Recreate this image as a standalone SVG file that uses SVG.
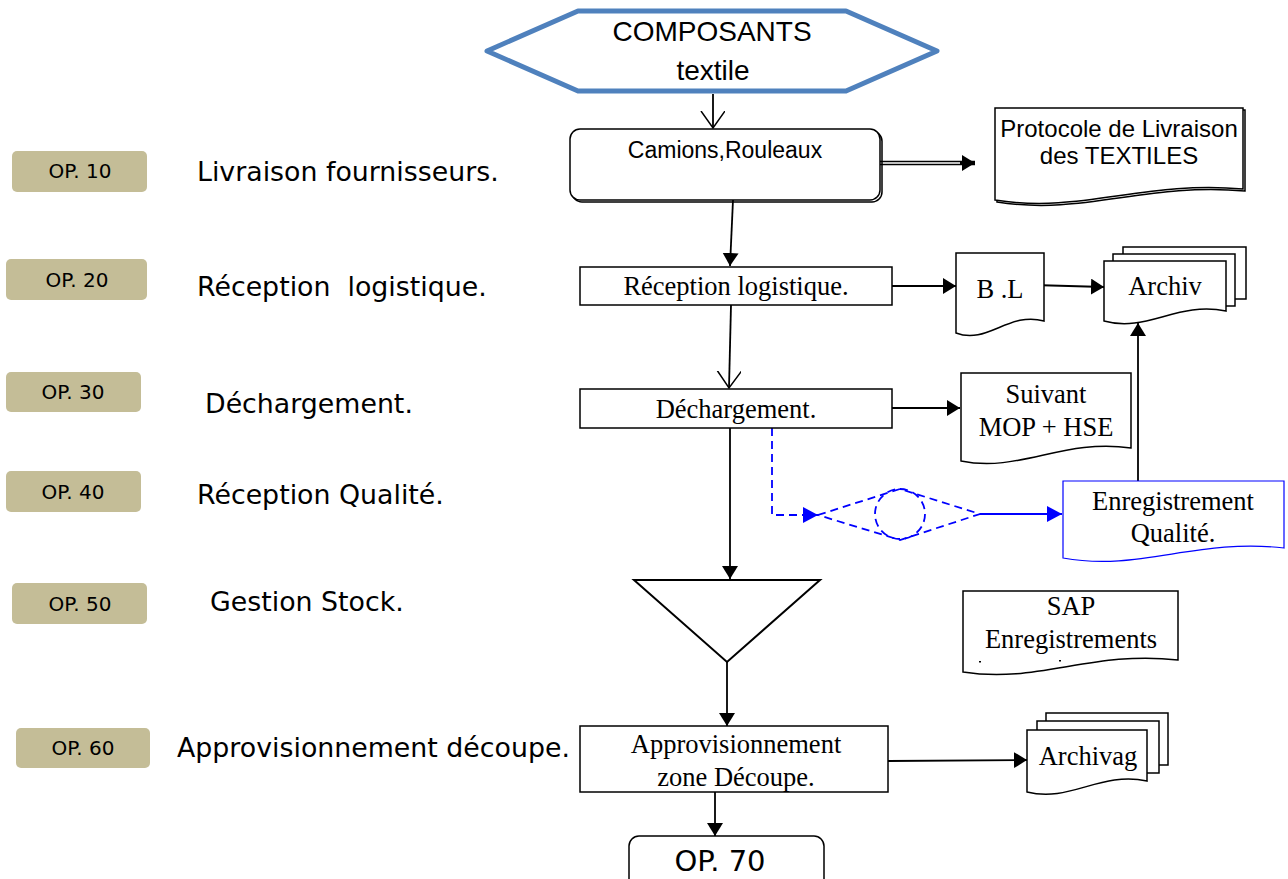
<svg xmlns="http://www.w3.org/2000/svg" width="1288" height="879" viewBox="0 0 1288 879">
  <style>
    .op { fill: #C4BD97; }
    .opt { font-family: "DejaVu Sans", sans-serif; font-size: 20px; fill: #000; text-anchor: middle; }
    .opbig { font-family: "DejaVu Sans", sans-serif; font-size: 29px; fill: #000; text-anchor: middle; }
    .lbl { font-family: "DejaVu Sans", sans-serif; font-size: 26.8px; fill: #000; }
    .box { fill: #fff; stroke: #000; stroke-width: 1.5; }
    .doc { fill: #fff; stroke: #000; stroke-width: 1.5; }
    .ser { font-family: "Liberation Serif", serif; font-size: 26.5px; fill: #000; text-anchor: middle; }
    .san { font-family: "Liberation Sans", sans-serif; fill: #000; text-anchor: middle; }
    .ln { fill: none; stroke: #000; stroke-width: 1.8; }
    .bl { fill: none; stroke: #0000FF; stroke-width: 1.8; }
    .dash { stroke-dasharray: 8 5; }
  </style>
  <defs>
    <marker id="solid" markerUnits="userSpaceOnUse" markerWidth="16" markerHeight="18" refX="13" refY="8" orient="auto">
      <path d="M0,0 L13,8 L0,16 z" fill="#000"/>
    </marker>
    <marker id="open" markerUnits="userSpaceOnUse" markerWidth="20" markerHeight="28" refX="17" refY="12" orient="auto">
      <path d="M0,0 L17,12 L0,24" fill="none" stroke="#000" stroke-width="1.5"/>
    </marker>
    <marker id="blue" markerUnits="userSpaceOnUse" markerWidth="18" markerHeight="18" refX="15" refY="8" orient="auto">
      <path d="M0,0 L15,8 L0,16 z" fill="#0000FF"/>
    </marker>
  </defs>

  <rect width="1288" height="879" fill="#fff"/>

  <!-- operation tags and step labels -->
  <g id="op10">
    <rect class="op" x="12" y="151" width="135" height="41" rx="5"/>
    <text class="opt" x="80" y="178">OP. 10</text>
    <text class="lbl" x="197" y="181">Livraison fournisseurs.</text>
  </g>
  <g id="op20">
    <rect class="op" x="6" y="259" width="141" height="41" rx="5"/>
    <text class="opt" x="77" y="287">OP. 20</text>
    <text class="lbl" x="197" y="296" xml:space="preserve">Réception  logistique.</text>
  </g>
  <g id="op30">
    <rect class="op" x="6" y="372" width="135" height="40" rx="5"/>
    <text class="opt" x="73" y="399">OP. 30</text>
    <text class="lbl" x="205" y="413">Déchargement.</text>
  </g>
  <g id="op40">
    <rect class="op" x="6" y="471" width="135" height="41" rx="5"/>
    <text class="opt" x="73" y="499">OP. 40</text>
    <text class="lbl" x="197" y="504">Réception Qualité.</text>
  </g>
  <g id="op50">
    <rect class="op" x="12" y="583" width="135" height="41" rx="5"/>
    <text class="opt" x="80" y="611">OP. 50</text>
    <text class="lbl" x="210" y="611">Gestion Stock.</text>
  </g>
  <g id="op60">
    <rect class="op" x="16" y="728" width="134" height="40" rx="5"/>
    <text class="opt" x="83" y="755">OP. 60</text>
    <text class="lbl" x="177" y="757">Approvisionnement découpe.</text>
  </g>

  <!-- connectors -->
  <g id="connectors">
    <line class="ln" x1="713" y1="94" x2="713" y2="128" marker-end="url(#open)"/>
    <line x1="880" y1="163" x2="975" y2="163" stroke="#000" stroke-width="4.5" marker-end="url(#solid)"/>
    <line x1="880" y1="163" x2="960" y2="163" stroke="#fff" stroke-width="1.4"/>
    <line class="ln" x1="733" y1="200" x2="730" y2="266" marker-end="url(#solid)"/>
    <line class="ln" x1="892" y1="286" x2="956" y2="286" marker-end="url(#solid)"/>
    <line class="ln" x1="1033" y1="285" x2="1104" y2="287" marker-end="url(#solid)"/>
    <line class="ln" x1="731" y1="305" x2="729" y2="388" marker-end="url(#open)"/>
    <line class="ln" x1="892" y1="408" x2="960" y2="408" marker-end="url(#solid)"/>
    <path class="bl dash" d="M772,428 V515 H818" marker-end="url(#blue)"/>
    <path class="bl dash" d="M818,515 L900,489 L980,514 L900,540 Z"/>
    <circle class="bl dash" cx="900" cy="514" r="25"/>
    <line class="bl" x1="980" y1="514" x2="1062" y2="514" marker-end="url(#blue)"/>
    <line class="ln" x1="1138" y1="481" x2="1138" y2="323" marker-end="url(#solid)"/>
    <line class="ln" x1="730" y1="428" x2="730" y2="579" marker-end="url(#solid)"/>
    <line class="ln" x1="727" y1="662" x2="727" y2="726" marker-end="url(#solid)"/>
    <line class="ln" x1="888" y1="761" x2="1027" y2="760" marker-end="url(#solid)"/>
    <line class="ln" x1="715" y1="792" x2="715" y2="836" marker-end="url(#solid)"/>
  </g>

  <!-- start terminal -->
  <g id="composants">
    <polygon points="487,51 578,11 846,11 937,51 846,91 578,91" fill="#fff" stroke="#4F81BD" stroke-width="5" stroke-linejoin="round"/>
    <text class="san" x="712" y="41" font-size="28">COMPOSANTS</text>
    <text class="san" x="713" y="80" font-size="28">textile</text>
  </g>

  <g id="camions">
    <rect x="572" y="131" width="310" height="71" rx="10" fill="none" stroke="#000" stroke-width="1.5"/>
    <rect class="box" x="570" y="129" width="310" height="71" rx="10"/>
    <text class="san" x="725" y="158" font-size="23">Camions,Rouleaux</text>
  </g>

  <g id="protocole">
    <path d="M997,110 H1245 V191 C1146,182 1084,216 997,202 Z" fill="none" stroke="#000" stroke-width="1.5"/>
    <path class="doc" d="M995,108 H1243 V189 C1144,180 1082,214 995,200 Z"/>
    <text class="san" x="1119" y="137" font-size="24">Protocole de Livraison</text>
    <text class="san" x="1119" y="164" font-size="24">des TEXTILES</text>
  </g>

  <g id="reception">
    <rect class="box" x="580" y="267" width="312" height="38"/>
    <text class="ser" x="736" y="295">Réception logistique.</text>
  </g>

  <g id="bl">
    <path class="doc" d="M956,253 H1044 V321 C1009,311 987,345 956,333 Z"/>
    <text class="ser" x="1000" y="298">B .L</text>
  </g>

  <g id="archiv">
    <path class="doc" d="M1123,254 V247 H1246 V299 H1235"/>
    <path class="doc" d="M1113,261 V254 H1235 V306 H1226"/>
    <path class="doc" d="M1104,261 H1226 V311 C1177,301 1147,333 1104,321 Z"/>
    <text class="ser" x="1165" y="295">Archiv</text>
  </g>

  <g id="dechargement">
    <rect class="box" x="580" y="389" width="312" height="39"/>
    <text class="ser" x="736" y="418">Déchargement.</text>
  </g>

  <g id="suivant">
    <path class="doc" d="M961,373 H1131 V448 C1063,438 1020,473 961,461 Z"/>
    <text class="ser" x="1046" y="403">Suivant</text>
    <text class="ser" x="1046" y="436">MOP + HSE</text>
  </g>

  <g id="enregistrement">
    <path d="M1063,481 H1284 V548 C1196,538 1140,572 1063,558 Z" fill="#fff" stroke="#0000FF" stroke-width="1.2"/>
    <text class="ser" x="1173" y="510">Enregistrement</text>
    <text class="ser" x="1173" y="542">Qualité.</text>
  </g>

  <g id="stock">
    <polygon points="634,580 820,580 727,662" fill="#fff" stroke="#000" stroke-width="2"/>
  </g>

  <g id="sap">
    <path class="doc" d="M963,591 H1178 V660 C1092,650 1038,684 963,672 Z"/>
    <text class="ser" x="1071" y="615">SAP</text>
    <text class="ser" x="1071" y="648">Enregistrements</text>
    <rect x="979" y="661" width="2" height="1.5" fill="#000"/>
    <rect x="1059" y="660" width="2" height="1.5" fill="#000"/>
  </g>

  <g id="approvisionnement">
    <rect class="box" x="580" y="726" width="308" height="66"/>
    <text class="ser" x="736" y="753">Approvisionnement</text>
    <text class="ser" x="736" y="786">zone Découpe.</text>
  </g>

  <g id="archivag">
    <path class="doc" d="M1046,721 V713 H1168 V765 H1159"/>
    <path class="doc" d="M1037,730 V721 H1159 V773 H1147"/>
    <path class="doc" d="M1027,730 H1147 V781 C1100,771 1070,803 1027,792 Z"/>
    <text class="ser" x="1088" y="765">Archivag</text>
  </g>

  <g id="op70">
    <rect class="box" x="629" y="836" width="195" height="60" rx="10"/>
    <text class="opbig" x="720" y="871">OP. 70</text>
  </g>
</svg>
